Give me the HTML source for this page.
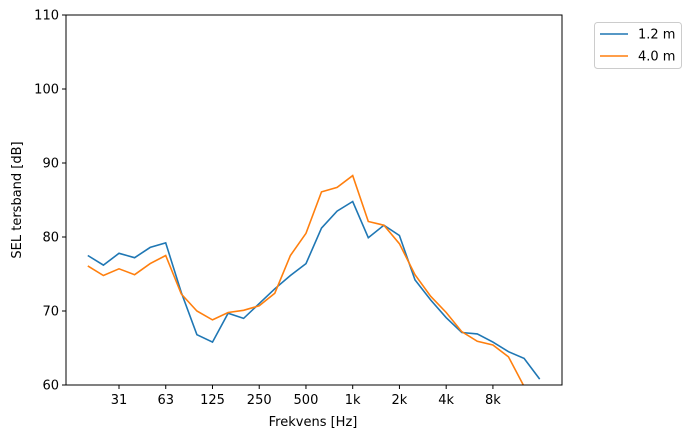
<!DOCTYPE html>
<html><head><meta charset="utf-8"><style>
body{margin:0;background:#fff;}
svg{display:block;font-family:"DejaVu Sans","Liberation Sans",sans-serif;}
</style></head><body>
<svg id="s" width="693" height="438" viewBox="0 0 693 438" xmlns="http://www.w3.org/2000/svg">
<defs><clipPath id="c"><rect x="66" y="15" width="496" height="370"/></clipPath></defs>
<rect width="693" height="438" fill="#fff"/>
<g id="ax" font-size="13" fill="#000"></g>
<polyline id="b" clip-path="url(#c)" fill="none" stroke="#1f77b4" stroke-width="1.6"/>
<polyline id="o" clip-path="url(#c)" fill="none" stroke="#ff7f0e" stroke-width="1.6"/>
<rect x="66" y="15" width="496" height="370" fill="none" stroke="#000" stroke-width="1"/>
<text x="313" y="426" font-size="13" text-anchor="middle">Frekvens [Hz]</text>
<text transform="translate(21,200) rotate(-90)" font-size="13" text-anchor="middle">SEL tersband [dB]</text>
<rect x="594.5" y="22.5" width="87" height="46" rx="3" fill="#fff" stroke="#ccc"/>
<line x1="600" y1="34" x2="628" y2="34" stroke="#1f77b4" stroke-width="1.6"/>
<text x="638" y="38.5" font-size="13">1.2 m</text>
<line x1="600" y1="56" x2="628" y2="56" stroke="#ff7f0e" stroke-width="1.6"/>
<text x="638" y="60.5" font-size="13">4.0 m</text>
</svg>
<script>
var B=[77.5,76.2,77.8,77.2,78.6,79.2,72.5,66.8,65.8,69.7,69.0,71.0,73.0,74.8,76.4,81.2,83.5,84.8,79.9,81.6,80.2,74.2,71.5,69.1,67.1,66.9,65.8,64.5,63.6,60.8];
var O=[76.1,74.8,75.7,74.9,76.4,77.5,72.3,70.0,68.8,69.8,70.1,70.7,72.4,77.5,80.5,86.1,86.7,88.3,82.1,81.6,79.1,74.9,72.0,69.8,67.2,65.9,65.4,63.8,59.8,56];
function X(i){return 119+(i-2)*15.58;}function Y(v){return 385-(v-60)*7.4;}
function pts(a){return a.map(function(v,i){return X(i).toFixed(1)+","+Y(v).toFixed(1)}).join(" ");}
document.getElementById('b').setAttribute('points',pts(B));
document.getElementById('o').setAttribute('points',pts(O));
var g=document.getElementById('ax'),h='';
for(var v=60;v<=110;v+=10){var y=Y(v);h+='<line x1="62" y1="'+y+'" x2="66" y2="'+y+'" stroke="#000"/><text x="59" y="'+(y+4.5)+'" text-anchor="end">'+v+'</text>';}
var L=['31','63','125','250','500','1k','2k','4k','8k'];
L.forEach(function(t,k){var x=X(2+3*k);h+='<line x1="'+x+'" y1="385" x2="'+x+'" y2="389" stroke="#000"/><text x="'+x+'" y="404" text-anchor="middle">'+t+'</text>';});
g.innerHTML=h;
</script>
</body></html>
